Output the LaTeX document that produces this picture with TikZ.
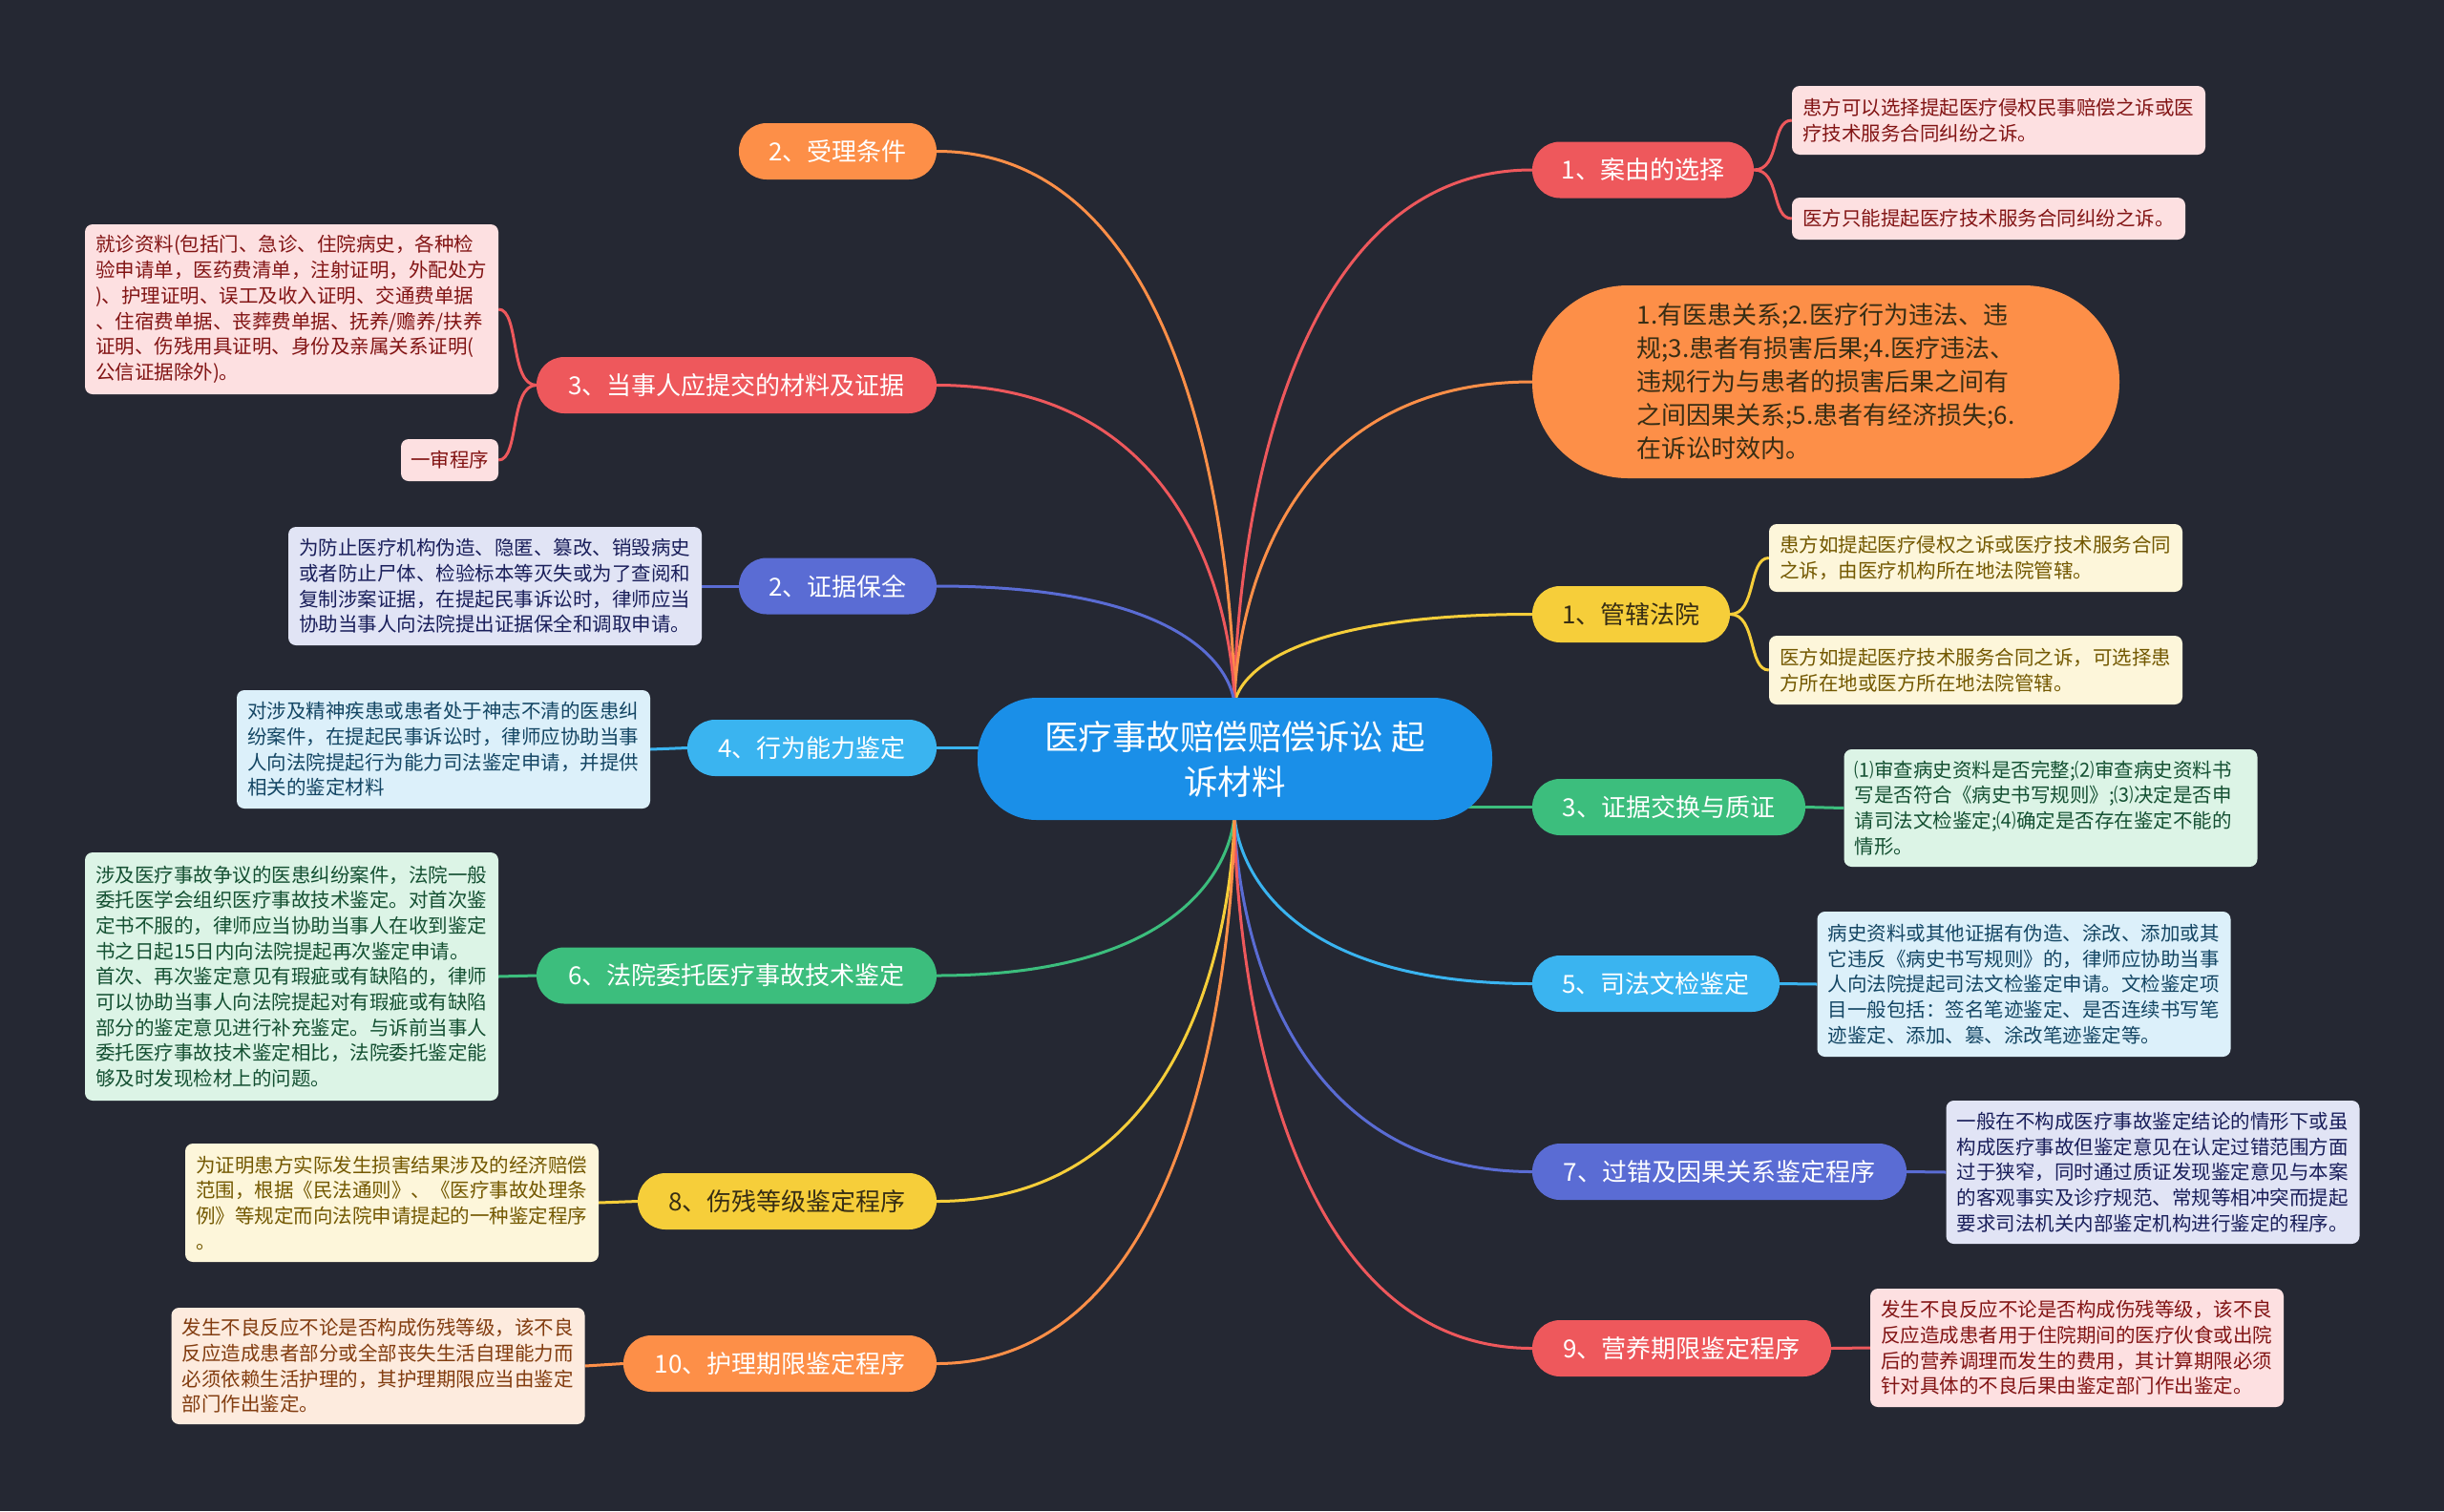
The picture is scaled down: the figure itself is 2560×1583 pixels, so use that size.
\documentclass[tikz,border=0pt]{standalone}
\usepackage{fontspec}
\setmainfont{Noto Sans CJK SC}
\usetikzlibrary{calc}
\definecolor{bgc}{RGB}{37,40,51}
\definecolor{cred}{RGB}{238,88,92}
\definecolor{corange}{RGB}{253,143,72}
\definecolor{cyellow}{RGB}{246,206,58}
\definecolor{cgreen}{RGB}{60,190,125}
\definecolor{cblue}{RGB}{58,180,240}
\definecolor{cindigo}{RGB}{90,108,212}
\definecolor{ccenter}{RGB}{26,143,232}
\definecolor{lpink}{RGB}{253,224,225}
\definecolor{lyellow}{RGB}{253,246,218}
\definecolor{lgreen}{RGB}{220,244,230}
\definecolor{lblue}{RGB}{220,240,250}
\definecolor{llav}{RGB}{225,228,245}
\definecolor{lpeach}{RGB}{253,235,222}
\definecolor{tred}{RGB}{130,20,20}
\definecolor{tyellow}{RGB}{115,88,0}
\definecolor{tgreen}{RGB}{20,80,50}
\definecolor{tblue}{RGB}{20,70,100}
\definecolor{tlav}{RGB}{25,30,90}
\definecolor{tpeach}{RGB}{130,60,15}
\definecolor{tdark}{RGB}{55,45,20}
\pgfdeclarelayer{back}
\pgfsetlayers{back,main}
\tikzset{
  pill/.style={rounded corners=29, minimum height=59, inner sep=0, text=white,
    font=\fontsize{26}{30}\selectfont},
  leaf/.style={rounded corners=8, text width=411, inner xsep=11, inner ysep=5,
    align=left, font=\fontsize{20.5}{26.7}\selectfont},
  conn/.style={line width=3},
}
\begin{document}
\begin{tikzpicture}[x=1pt,y=-1pt]
\useasboundingbox (0,0) rectangle (2560,1583);
% center
\node[fill=ccenter, rounded corners=62, minimum width=539, minimum height=128, inner sep=0,
  text=white, align=center, font=\fontsize{35.5}{47}\selectfont] (c) at (1293.5,795)
  {医疗事故赔偿赔偿诉讼 起\\诉材料};
\coordinate (top) at (1293,740);
\coordinate (bot) at (1293,850);
% right pills
\node[pill, fill=cred, minimum width=232] (r1) at (1721,178) {1、案由的选择};
\node[fill=corange, rounded corners=100, minimum width=615, minimum height=202, inner sep=0,
  align=left, text=tdark, font=\fontsize{26}{35}\selectfont] (r2) at (1912.5,400)
  {1.有医患关系;2.医疗行为违法、违\\规;3.患者有损害后果;4.医疗违法、\\违规行为与患者的损害后果之间有\\之间因果关系;5.患者有经济损失;6.\\在诉讼时效内。};
\node[pill, fill=cyellow, text=tdark, minimum width=207] (r3) at (1708.5,643.5) {1、管辖法院};
\node[pill, fill=cgreen, minimum width=286] (r4) at (1748,845.5) {3、证据交换与质证};
\node[pill, fill=cblue, minimum width=259] (r5) at (1734.5,1030.5) {5、司法文检鉴定};
\node[pill, fill=cindigo, minimum width=392] (r6) at (1801,1227.5) {7、过错及因果关系鉴定程序};
\node[pill, fill=cred, minimum width=313] (r7) at (1761.5,1412.5) {9、营养期限鉴定程序};
% left pills
\node[pill, fill=corange, minimum width=207] (l1) at (877.5,158.5) {2、受理条件};
\node[pill, fill=cred, minimum width=419] (l2) at (771.5,403.5) {3、当事人应提交的材料及证据};
\node[pill, fill=cindigo, minimum width=207] (l3) at (877.5,614) {2、证据保全};
\node[pill, fill=cblue, minimum width=261] (l4) at (850.5,783.5) {4、行为能力鉴定};
\node[pill, fill=cgreen, minimum width=419] (l5) at (771.5,1022) {6、法院委托医疗事故技术鉴定};
\node[pill, fill=cyellow, text=tdark, minimum width=313] (l6) at (824.5,1258.5) {8、伤残等级鉴定程序};
\node[pill, fill=corange, minimum width=328] (l7) at (817,1428.5) {10、护理期限鉴定程序};
% right leaves
\node[leaf, fill=lpink, text=tred, minimum height=72] (r1a) at (2093.5,126)
  {患方可以选择提起医疗侵权民事赔偿之诉或医\\疗技术服务合同纠纷之诉。};
\node[leaf, fill=lpink, text=tred, minimum height=44, text width=390] (r1b) at (2083,229)
  {医方只能提起医疗技术服务合同纠纷之诉。};
\node[leaf, fill=lyellow, text=tyellow, minimum height=71] (r3a) at (2069.5,584.5)
  {患方如提起医疗侵权之诉或医疗技术服务合同\\之诉，由医疗机构所在地法院管辖。};
\node[leaf, fill=lyellow, text=tyellow, minimum height=72] (r3b) at (2069.5,702)
  {医方如提起医疗技术服务合同之诉，可选择患\\方所在地或医方所在地法院管辖。};
\node[leaf, fill=lgreen, text=tgreen, minimum height=123] (r4a) at (2148,846.5)
  {⑴审查病史资料是否完整;⑵审查病史资料书\\写是否符合《病史书写规则》;⑶决定是否申\\请司法文检鉴定;⑷确定是否存在鉴定不能的\\情形。};
\node[leaf, fill=lblue, text=tblue, minimum height=152] (r5a) at (2120,1031)
  {病史资料或其他证据有伪造、涂改、添加或其\\它违反《病史书写规则》的，律师应协助当事\\人向法院提起司法文检鉴定申请。文检鉴定项\\目一般包括：签名笔迹鉴定、是否连续书写笔\\迹鉴定、添加、篡、涂改笔迹鉴定等。};
\node[leaf, fill=llav, text=tlav, minimum height=150] (r6a) at (2255,1228)
  {一般在不构成医疗事故鉴定结论的情形下或虽\\构成医疗事故但鉴定意见在认定过错范围方面\\过于狭窄，同时通过质证发现鉴定意见与本案\\的客观事实及诊疗规范、常规等相冲突而提起\\要求司法机关内部鉴定机构进行鉴定的程序。};
\node[leaf, fill=lpink, text=tred, minimum height=124] (r7a) at (2175.5,1412)
  {发生不良反应不论是否构成伤残等级，该不良\\反应造成患者用于住院期间的医疗伙食或出院\\后的营养调理而发生的费用，其计算期限必须\\针对具体的不良后果由鉴定部门作出鉴定。};
% left leaves
\node[leaf, fill=lpink, text=tred, minimum height=178] (l2a) at (305.5,324)
  {就诊资料(包括门、急诊、住院病史，各种检\\验申请单，医药费清单，注射证明，外配处方\\)、护理证明、误工及收入证明、交通费单据\\、住宿费单据、丧葬费单据、抚养/赡养/扶养\\证明、伤残用具证明、身份及亲属关系证明(\\公信证据除外)。};
\node[leaf, fill=lpink, text=tred, minimum height=44, text width=82, inner xsep=10] (l2b) at (471,482)
  {一审程序};
\node[leaf, fill=llav, text=tlav, minimum height=124] (l3a) at (518.5,614)
  {为防止医疗机构伪造、隐匿、篡改、销毁病史\\或者防止尸体、检验标本等灭失或为了查阅和\\复制涉案证据，在提起民事诉讼时，律师应当\\协助当事人向法院提出证据保全和调取申请。};
\node[leaf, fill=lblue, text=tblue, minimum height=124] (l4a) at (464.5,785)
  {对涉及精神疾患或患者处于神志不清的医患纠\\纷案件，在提起民事诉讼时，律师应协助当事\\人向法院提起行为能力司法鉴定申请，并提供\\相关的鉴定材料};
\node[leaf, fill=lgreen, text=tgreen, minimum height=260] (l5a) at (305.5,1023)
  {涉及医疗事故争议的医患纠纷案件，法院一般\\委托医学会组织医疗事故技术鉴定。对首次鉴\\定书不服的，律师应当协助当事人在收到鉴定\\书之日起15日内向法院提起再次鉴定申请。\\首次、再次鉴定意见有瑕疵或有缺陷的，律师\\可以协助当事人向法院提起对有瑕疵或有缺陷\\部分的鉴定意见进行补充鉴定。与诉前当事人\\委托医疗事故技术鉴定相比，法院委托鉴定能\\够及时发现检材上的问题。};
\node[leaf, fill=lyellow, text=tyellow, minimum height=124] (l6a) at (410.5,1260)
  {为证明患方实际发生损害结果涉及的经济赔偿\\范围，根据《民法通则》、《医疗事故处理条\\例》等规定而向法院申请提起的一种鉴定程序\\。};
\node[leaf, fill=lpeach, text=tpeach, minimum height=122] (l7a) at (396,1431)
  {发生不良反应不论是否构成伤残等级，该不良\\反应造成患者部分或全部丧失生活自理能力而\\必须依赖生活护理的，其护理期限应当由鉴定\\部门作出鉴定。};
\begin{pgfonlayer}{back}
\fill[bgc] (0,0) rectangle (2560,1583);
% top branches
\foreach \n/\a/\col in {r1/west/cred, r2/west/corange, r3/west/cyellow, l1/east/corange, l2/east/cred, l3/east/cindigo}{
  \draw[conn, \col] (top) .. controls ($(top)!0.2!(top|-\n.\a)$) and ($(\n.\a)!0.9!(top|-\n.\a)$) .. (\n.\a);
}
% bottom branches
\foreach \n/\a/\col in {r5/west/cblue, r6/west/cindigo, r7/west/cred, l5/east/cgreen, l6/east/cyellow, l7/east/corange}{
  \draw[conn, \col] (bot) .. controls ($(bot)!0.2!(bot|-\n.\a)$) and ($(\n.\a)!0.9!(bot|-\n.\a)$) .. (\n.\a);
}
% side branches
\draw[conn, cgreen] (c.center |- r4.west) -- (r4.west);
\draw[conn, cblue] (c.center |- l4.east) -- (l4.east);
% leaf connectors
\draw[conn, cred] (r1.east) .. controls +(28,0) and +(-22,0) .. (r1a.west);
\draw[conn, cred] (r1.east) .. controls +(28,0) and +(-22,0) .. (r1b.west);
\draw[conn, cyellow] (r3.east) .. controls +(28,0) and +(-22,0) .. (r3a.west);
\draw[conn, cyellow] (r3.east) .. controls +(28,0) and +(-22,0) .. (r3b.west);
\draw[conn, cgreen] (r4.east) -- (r4a.west);
\draw[conn, cblue] (r5.east) -- (r5a.west);
\draw[conn, cindigo] (r6.east) -- (r6a.west);
\draw[conn, cred] (r7.east) -- (r7a.west);
\draw[conn, cred] (l2.west) .. controls +(-28,0) and +(22,0) .. (l2a.east);
\draw[conn, cred] (l2.west) .. controls +(-28,0) and +(22,0) .. (l2b.east);
\draw[conn, cindigo] (l3.west) -- (l3a.east);
\draw[conn, cblue] (l4.west) -- (l4a.east);
\draw[conn, cgreen] (l5.west) -- (l5a.east);
\draw[conn, cyellow] (l6.west) -- (l6a.east);
\draw[conn, corange] (l7.west) -- (l7a.east);
\end{pgfonlayer}
\end{tikzpicture}
\end{document}
